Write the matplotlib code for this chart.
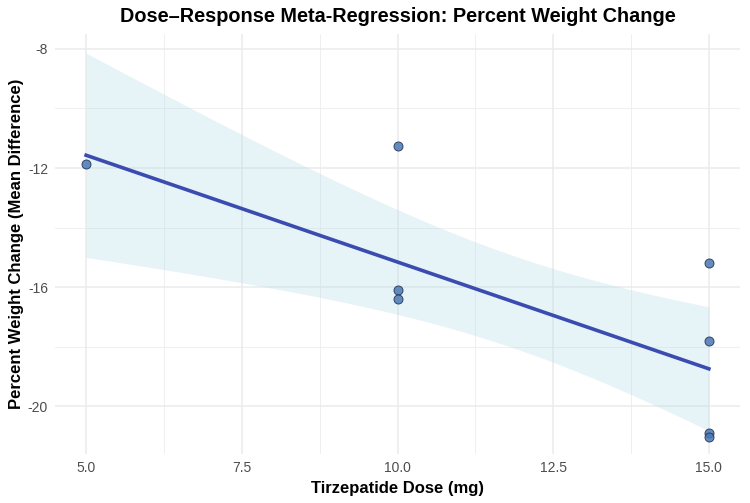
import numpy as np
import matplotlib.pyplot as plt
from matplotlib.ticker import MultipleLocator

plt.rcParams['font.family'] = ['Liberation Sans', 'DejaVu Sans']

# study-level data
dose = [5, 10, 10, 10, 15, 15, 15, 15]
weight_change = [-11.87, -11.27, -16.08, -16.38, -15.20, -17.80, -20.90, -21.03]

# meta-regression fit and CI scale
fit_intercept = -7.985
fit_slope = -0.717
ci_scale = 4.38

x_ticks = [5.0, 7.5, 10.0, 12.5, 15.0]
y_ticks = [-8, -12, -16, -20]

dose_arr = np.array(dose, dtype=float)
xbar = dose_arr.mean()
sxx = ((dose_arr - xbar) ** 2).sum()
grid_x = np.linspace(min(dose), max(dose), 100)
fit_y = fit_intercept + fit_slope * grid_x
margin = ci_scale * np.sqrt(1 / len(dose) + (grid_x - xbar) ** 2 / sxx)

fig = plt.figure(figsize=(7.5, 5.03), dpi=100)
ax = fig.add_axes([0.0733, 0.0974, 0.9134, 0.835])

ax.fill_between(grid_x, fit_y - margin, fit_y + margin, color='#ADD8E6',
                alpha=0.3, linewidth=0, zorder=1)
ax.plot(grid_x, fit_y, color='#3B4CB0', linewidth=2.6, zorder=2)
ax.scatter(dose, weight_change, s=42, color='#4A78B5', alpha=0.85,
           edgecolor='#1F2F4F', linewidth=0.7, zorder=3)

ax.set_xlim(4.5, 15.5)
ax.set_ylim(-21.6, -7.5)
ax.set_xticks(x_ticks)
ax.set_xticklabels([f'{t:.1f}' for t in x_ticks])
ax.set_yticks(y_ticks)
ax.set_yticklabels([str(t) for t in y_ticks])
ax.xaxis.set_minor_locator(MultipleLocator(1.25))
ax.yaxis.set_minor_locator(MultipleLocator(2))

ax.grid(which='major', color='#EBEBEB', linewidth=1.1)
ax.grid(which='minor', color='#EBEBEB', linewidth=0.55)
ax.set_axisbelow(True)
for s in ax.spines.values():
    s.set_visible(False)
ax.tick_params(which='both', length=0, labelsize=10, colors='#4D4D4D', pad=5)

ax.set_xlabel('Tirzepatide Dose (mg)', fontsize=12, fontweight='bold', labelpad=4)
ax.set_ylabel('Percent Weight Change (Mean Difference)', fontsize=12,
              fontweight='bold', labelpad=3)
ax.set_title('Dose\u2013Response Meta-Regression: Percent Weight Change',
             fontsize=14.3, fontweight='bold', pad=9)

fig.savefig('out.png', dpi=100)
